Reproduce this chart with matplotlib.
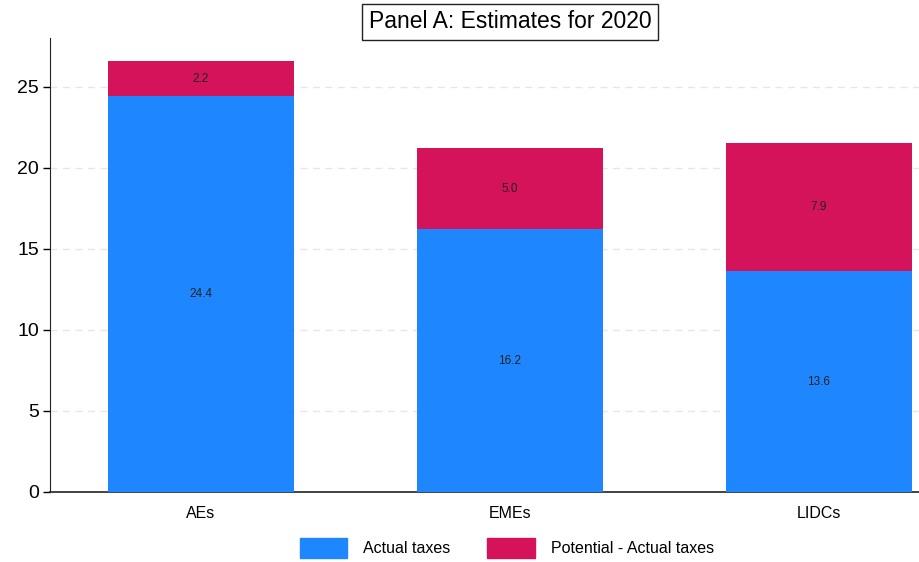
import matplotlib
matplotlib.use("Agg")
import matplotlib.pyplot as plt
from matplotlib.patches import Patch

categories = ["AEs", "EMEs", "LIDCs"]
actual = [24.4, 16.2, 13.6]
gap = [2.2, 5.0, 7.9]
yticks = [0, 5, 10, 15, 20, 25]

plt.rcParams['font.family'] = ['Liberation Sans', 'DejaVu Sans']

blue = "#1E87FF"
red = "#D5135A"

fig = plt.figure(figsize=(9.2, 5.62), dpi=100)
ax = fig.add_axes([50/920, 1-492/562, 870/920, (492-38)/562])

x = list(range(len(categories)))
w = 0.60
ax.bar(x, actual, width=w, color=blue, zorder=3)
ax.bar(x, gap, width=w, bottom=actual, color=red, zorder=3)

for xi, a, g in zip(x, actual, gap):
    ax.text(xi, a/2, f"{a:.1f}", ha="center", va="center", fontsize=8.5, color="#222222", zorder=4)
    ax.text(xi, a + g/2, f"{g:.1f}", ha="center", va="center", fontsize=8.5, color="#222222", zorder=4)

ax.set_xlim(-0.4887, 2.327)
ax.set_ylim(0, 28)
ax.set_yticks(yticks)
ax.set_yticklabels([str(t) for t in yticks], fontsize=14)
ax.set_xticks(x)
ax.set_xticklabels(categories, fontsize=11.5)
ax.tick_params(axis='x', length=0, pad=10)
ax.tick_params(axis='y', length=5, width=1, pad=3)

for t in yticks[1:]:
    ax.axhline(t, color="#e6e6e6", linestyle=(0, (5, 4)), linewidth=1, zorder=1)

for s in ["top", "right"]:
    ax.spines[s].set_visible(False)
ax.spines["left"].set_color("#222222")
ax.spines["bottom"].set_color("#222222")
ax.spines["bottom"].set_linewidth(1.2)

fig.text(510/920, 1-22/562, "Panel A: Estimates for 2020", ha="center", va="center",
         fontsize=16.5, bbox=dict(boxstyle="square,pad=0.28", facecolor="white", edgecolor="#222222", linewidth=1))

handles = [Patch(facecolor=blue, edgecolor=blue), Patch(facecolor=red, edgecolor=red)]
fig.legend(handles, ["Actual taxes", "Potential - Actual taxes"], loc="center",
           bbox_to_anchor=(507/920, 1-548/562), ncol=2, frameon=False, fontsize=11.5,
           handlelength=3.0, handleheight=1.5, columnspacing=2.3, handletextpad=1.0)

fig.savefig("out.png", dpi=100)
